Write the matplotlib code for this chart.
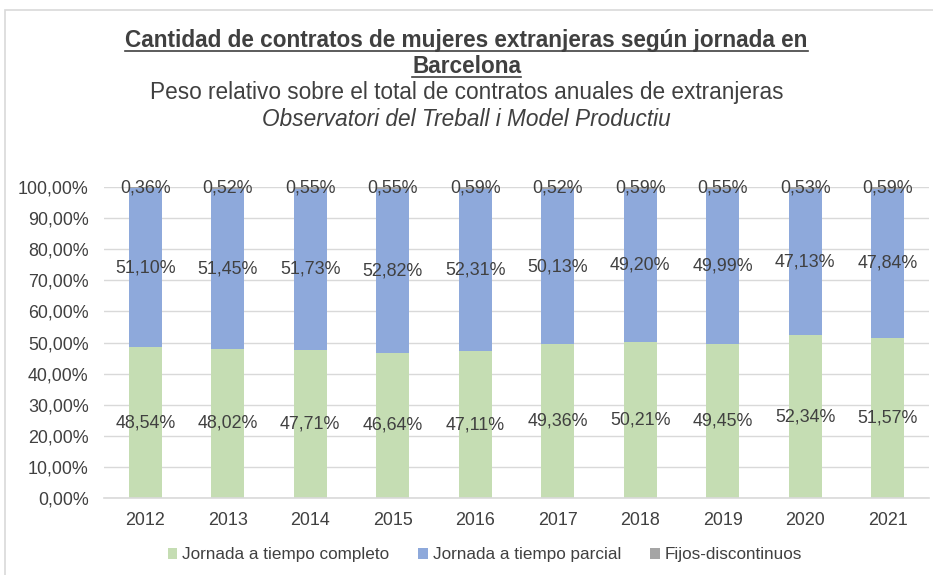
import matplotlib
matplotlib.use("Agg")
import matplotlib.pyplot as plt
from matplotlib.patches import Rectangle
from matplotlib.lines import Line2D
import numpy as np

plt.rcParams['font.family'] = ['Liberation Sans', 'DejaVu Sans']

years = ['2012', '2013', '2014', '2015', '2016', '2017', '2018', '2019', '2020', '2021']
completo = [48.54, 48.02, 47.71, 46.64, 47.11, 49.36, 50.21, 49.45, 52.34, 51.57]
parcial = [51.10, 51.45, 51.73, 52.82, 52.31, 50.13, 49.20, 49.99, 47.13, 47.84]
fijos = [0.36, 0.52, 0.55, 0.55, 0.59, 0.52, 0.59, 0.55, 0.53, 0.59]
series_names = ['Jornada a tiempo completo', 'Jornada a tiempo parcial', 'Fijos-discontinuos']
colors = ['#C5DDB3', '#8EA9DB', '#A5A5A5']
yticks = [0, 10, 20, 30, 40, 50, 60, 70, 80, 90, 100]

W, H = 933, 575
fig = plt.figure(figsize=(W / 100, H / 100), dpi=100)
txt = '#404040'
fs = 12.9
tfs = 16.3

# outer frame
fig.patches.append(Rectangle((5 / W, -0.01), 1.0, 1 - 10 / H + 0.01, transform=fig.transFigure,
                             fill=False, edgecolor='#D9D9D9', linewidth=1.2))

ax = fig.add_axes([104 / W, 1 - 498 / H, (929 - 104) / W, (498 - 187) / H])
x = np.arange(len(years))
w = 0.4
bottoms = np.zeros(len(years))
for vals, col, name in zip([completo, parcial, fijos], colors, series_names):
    v = np.array(vals)
    ax.bar(x, v, w, bottom=bottoms, color=col, label=name, zorder=2)
    for xi, b, vi in zip(x, bottoms, v):
        ax.text(xi, b + vi / 2, f"{vi:.2f}%".replace('.', ','), ha='center', va='center',
                fontsize=fs, color=txt, zorder=3)
    bottoms = bottoms + v

ax.set_xlim(-0.5, len(years) - 0.5)
ax.set_ylim(0, 100)
ax.set_yticks(yticks)
ax.set_yticklabels([f"{t:.2f}%".replace('.', ',') for t in yticks], fontsize=fs, color=txt)
ax.set_xticks(x)
ax.set_xticklabels(years, fontsize=fs, color=txt)
ax.tick_params(axis='x', length=0, pad=10)
ax.tick_params(axis='y', length=0, pad=11)
ax.yaxis.grid(True, color='#D9D9D9', linewidth=1, zorder=0)
ax.set_axisbelow(True)
for s in ['top', 'right', 'left']:
    ax.spines[s].set_visible(False)
ax.spines['bottom'].set_color('#D9D9D9')
ax.spines['bottom'].set_linewidth(1.2)

leg = fig.legend(loc='center', bbox_to_anchor=(485 / W, 1 - 555 / H), ncol=3, frameon=False,
                 fontsize=12.3, handlelength=0.55, handleheight=0.55, handletextpad=0.3,
                 columnspacing=1.7)
for t in leg.get_texts():
    t.set_color(txt)

t1 = fig.text(0.5, 1 - 41 / H, 'Cantidad de contratos de mujeres extranjeras según jornada en',
              ha='center', va='center', fontsize=tfs, fontweight='bold', color=txt)
t2 = fig.text(0.5, 1 - 67 / H, 'Barcelona', ha='center', va='center', fontsize=tfs,
              fontweight='bold', color=txt)
fig.text(0.5, 1 - 93 / H, 'Peso relativo sobre el total de contratos anuales de extranjeras',
         ha='center', va='center', fontsize=tfs, color=txt)
fig.text(0.5, 1 - 119 / H, 'Observatori del Treball i Model Productiu',
         ha='center', va='center', fontsize=tfs, style='italic', color=txt)

fig.canvas.draw()
r = fig.canvas.get_renderer()
for t in (t1, t2):
    bb = t.get_window_extent(renderer=r)
    y = bb.y0 + 1.5
    fig.add_artist(Line2D([bb.x0 / W, bb.x1 / W], [y / H, y / H], transform=fig.transFigure,
                          color=txt, linewidth=1.2))

fig.savefig('out.png', dpi=100)
